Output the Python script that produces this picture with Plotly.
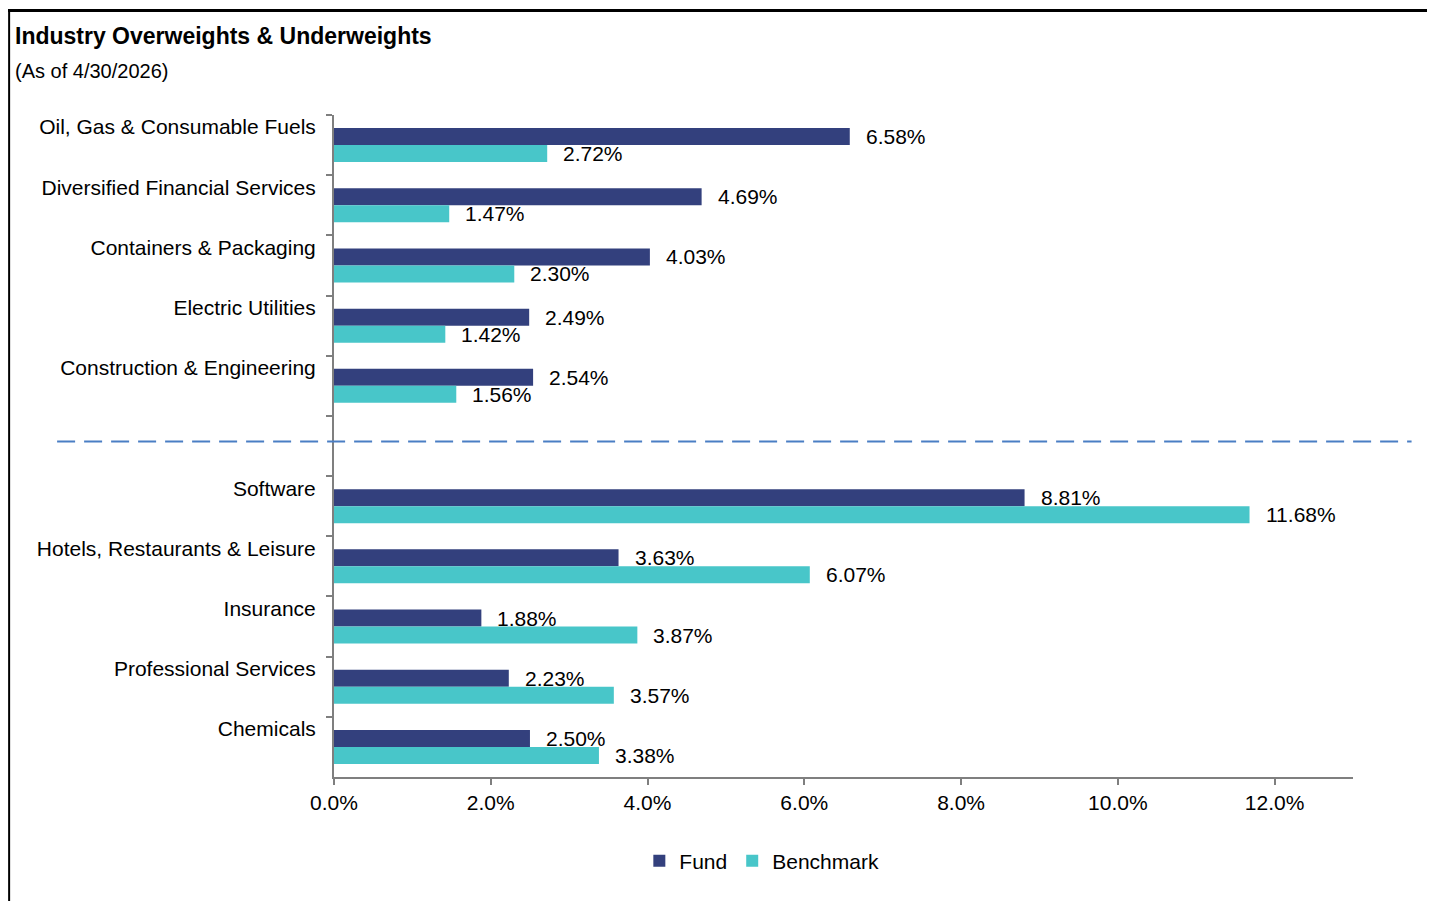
import plotly.graph_objects as go

# ── Data ───────────────────────────────────────────────────────────────────────
TOP_CATEGORIES = [
    "Oil, Gas & Consumable Fuels",
    "Diversified Financial Services",
    "Containers & Packaging",
    "Electric Utilities",
    "Construction & Engineering",
]
BOTTOM_CATEGORIES = [
    "Software",
    "Hotels, Restaurants & Leisure",
    "Insurance",
    "Professional Services",
    "Chemicals",
]
SPACER = " "  # empty slot holding the dashed divider

FUND = [6.58, 4.69, 4.03, 2.49, 2.54, 8.81, 3.63, 1.88, 2.23, 2.50]
BENCHMARK = [2.72, 1.47, 2.30, 1.42, 1.56, 11.68, 6.07, 3.87, 3.57, 3.38]

X_TICKS = [0, 2, 4, 6, 8, 10, 12]
X_TICK_LABELS = ["0.0%", "2.0%", "4.0%", "6.0%", "8.0%", "10.0%", "12.0%"]

CATEGORIES = TOP_CATEGORIES + BOTTOM_CATEGORIES
CATEGORY_ORDER = TOP_CATEGORIES + [SPACER] + BOTTOM_CATEGORIES

# ── Layout constants (page pixels) ─────────────────────────────────────────────
PAGE_W, PAGE_H = 1435, 901
OFF = 8                      # default body margin of the html page
W, H = PAGE_W - OFF, PAGE_H - OFF
L, R, T, B = 334, 1353.4, 115, 777
FONT = "Liberation Sans, Arial, sans-serif"
FUND_COLOR = "#33407D"
BENCH_COLOR = "#48C6C9"
AXIS_COLOR = "#7F7F7F"


def px_x(x):
    return (x - L) / (R - L)


def px_y(y):
    return (B - y) / (B - T)


fig = go.Figure()
fig.add_trace(go.Bar(
    y=CATEGORIES, x=FUND, orientation="h", name="Fund",
    marker=dict(color=FUND_COLOR, line=dict(width=0)),
))
fig.add_trace(go.Bar(
    y=CATEGORIES, x=BENCHMARK, orientation="h", name="Benchmark",
    marker=dict(color=BENCH_COLOR, line=dict(width=0)),
))

# value labels to the right of each bar
annotations = []
for series, shift in ((FUND, 8.5), (BENCHMARK, -8.5)):
    for cat, val in zip(CATEGORIES, series):
        annotations.append(dict(
            x=val, y=cat, xref="x", yref="y",
            text=f"{val:.2f}%", showarrow=False,
            xanchor="left", yanchor="middle", xshift=14, yshift=shift,
            font=dict(family=FONT, size=21, color="#000000"),
        ))

annotations.append(dict(
    x=px_x(13), y=px_y(36), xref="paper", yref="paper",
    text="<b>Industry Overweights & Underweights</b>", showarrow=False,
    xanchor="left", yanchor="middle",
    font=dict(family=FONT, size=23, color="#000000"),
))
annotations.append(dict(
    x=px_x(13), y=px_y(71), xref="paper", yref="paper",
    text="(As of 4/30/2026)", showarrow=False,
    xanchor="left", yanchor="middle",
    font=dict(family=FONT, size=20, color="#000000"),
))

shapes = [
    # dashed divider between overweights and underweights
    dict(type="line", xref="paper", yref="paper",
         x0=px_x(57), x1=px_x(1412), y0=px_y(441.5), y1=px_y(441.5),
         line=dict(color="#4A7EC4", width=2, dash="18px,9px")),
    # frame
    dict(type="line", xref="paper", yref="paper",
         x0=px_x(7), x1=px_x(1440), y0=px_y(10.5), y1=px_y(10.5),
         line=dict(color="#000000", width=3)),
    dict(type="line", xref="paper", yref="paper",
         x0=px_x(9), x1=px_x(9), y0=px_y(9), y1=px_y(905),
         line=dict(color="#000000", width=2)),
]

fig.update_layout(
    width=W, height=H,
    barmode="group", bargap=0.435, bargroupgap=0,
    paper_bgcolor="#FFFFFF", plot_bgcolor="#FFFFFF",
    margin=dict(l=L - OFF, r=PAGE_W - R, t=T - OFF, b=PAGE_H - B, autoexpand=False),
    font=dict(family=FONT, size=21, color="#000000"),
    showlegend=True,
    legend=dict(
        orientation="h", x=px_x(762), y=px_y(861),
        xanchor="center", yanchor="middle",
        font=dict(family=FONT, size=21, color="#000000"),
        itemwidth=30, traceorder="normal",
    ),
    annotations=annotations,
    shapes=shapes,
)

fig.update_xaxes(
    range=[0, 13], tickvals=X_TICKS, ticktext=X_TICK_LABELS,
    showgrid=False, zeroline=False,
    showline=True, linecolor=AXIS_COLOR, linewidth=2,
    ticks="outside", ticklen=6, tickwidth=2, tickcolor=AXIS_COLOR,
    tickfont=dict(family=FONT, size=21, color="#000000"),
)
fig.update_yaxes(
    type="category", categoryorder="array", categoryarray=CATEGORY_ORDER,
    range=[len(CATEGORY_ORDER) - 0.5, -0.5],
    showgrid=False, zeroline=False,
    showline=True, linecolor=AXIS_COLOR, linewidth=2,
    ticks="outside", tickson="boundaries", ticklen=6, tickwidth=2,
    tickcolor=AXIS_COLOR, ticklabelstandoff=12, ticklabelshift=18,
    tickfont=dict(family=FONT, size=21, color="#000000"),
)

fig.write_html("out.html")
